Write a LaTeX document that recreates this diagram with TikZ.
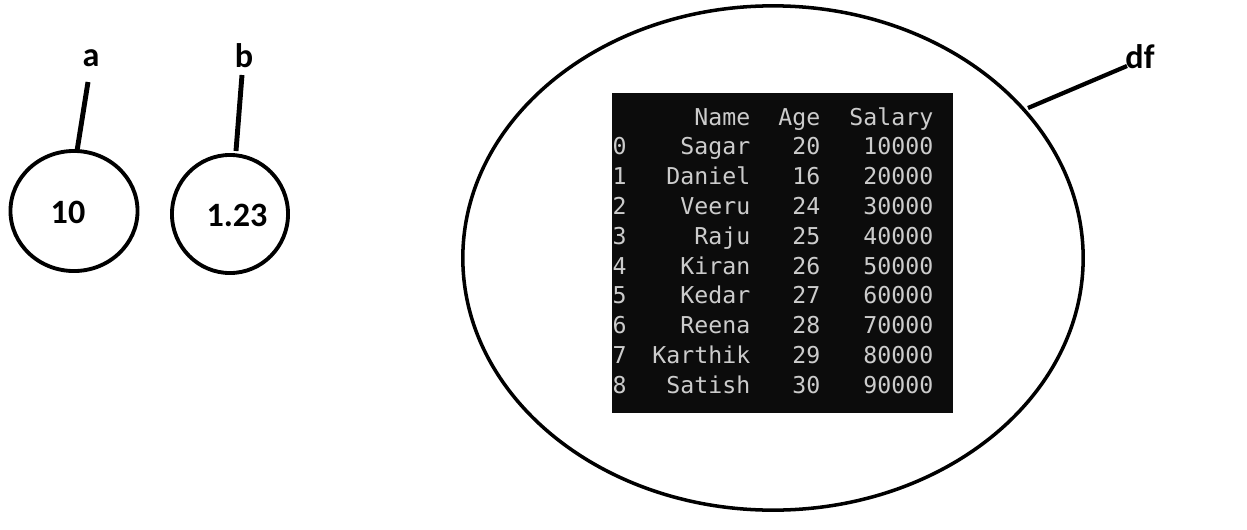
\documentclass[tikz,border=0pt]{standalone}
\usepackage{fontspec}
\setmainfont{Carlito}
\newfontfamily\consfont{DejaVu Sans Mono}
\usetikzlibrary{shapes.geometric}
\definecolor{termbg}{HTML}{0C0C0C}
\definecolor{termfg}{HTML}{CCCCCC}
\begin{document}
\begin{tikzpicture}[x=0.01cm,y=-0.01cm,
  var/.style={ellipse, draw, line width=1.1pt, inner sep=0pt},
  lbl/.style={font=\fontsize{9.7}{11}\selectfont\bfseries, inner sep=0pt},
  link/.style={line width=1.4pt},
  cell/.style={font=\consfont\fontsize{6.6}{8}\selectfont, text=termfg, inner sep=0pt}]
\useasboundingbox (0,0) rectangle (1247,530);
% variable a
\node[var, minimum width=1.27cm, minimum height=1.2cm] (ca) at (74,211) {};
\node[lbl] (va) at (68,212) {10};
\node[lbl] (la) at (91,58) {a};
\coordinate (la1) at (88,82);
\coordinate (la2) at (77,151);
\draw[link] (la1) -- (la2);
% variable b
\node[var, minimum width=1.16cm, minimum height=1.18cm] (cb) at (230,214) {};
\node[lbl] (vb) at (237,215) {1.23};
\node[lbl] (lb) at (244,56) {b};
\coordinate (lb1) at (242,75);
\coordinate (lb2) at (236,151);
\draw[link] (lb1) -- (lb2);
% dataframe
\node[var, line width=1pt, minimum width=6.2cm, minimum height=5.04cm] (cdf) at (773,258) {};
\node[fill=termbg, minimum width=3.41cm, minimum height=3.2cm, inner sep=0pt] (tbl) at (782.5,253) {};
\node[lbl] (ldf) at (1140,57) {df};
\coordinate (ld1) at (1127,66);
\coordinate (ld2) at (1028,108);
\draw[link, line width=1.2pt] (ld1) -- (ld2);
% header
\node[cell, anchor=base east] (hname) at (751,125) {Name};
\node[cell, anchor=base east] (hage) at (821,125) {Age};
\node[cell, anchor=base east] (hsal) at (934,125) {Salary};
\foreach \i/\n/\ag/\s in {0/Sagar/20/10000,1/Daniel/16/20000,2/Veeru/24/30000,3/Raju/25/40000,4/Kiran/26/50000,5/Kedar/27/60000,6/Reena/28/70000,7/Karthik/29/80000,8/Satish/30/90000}{
  \pgfmathsetmacro{\yy}{125+29.8*(\i+1)}
  \node[cell, anchor=base west] (idx\i) at (612,\yy) {\i};
  \node[cell, anchor=base east] (nm\i) at (751,\yy) {\n};
  \node[cell, anchor=base east] (ag\i) at (821,\yy) {\ag};
  \node[cell, anchor=base east] (sl\i) at (934,\yy) {\s};
}
\end{tikzpicture}
\end{document}
